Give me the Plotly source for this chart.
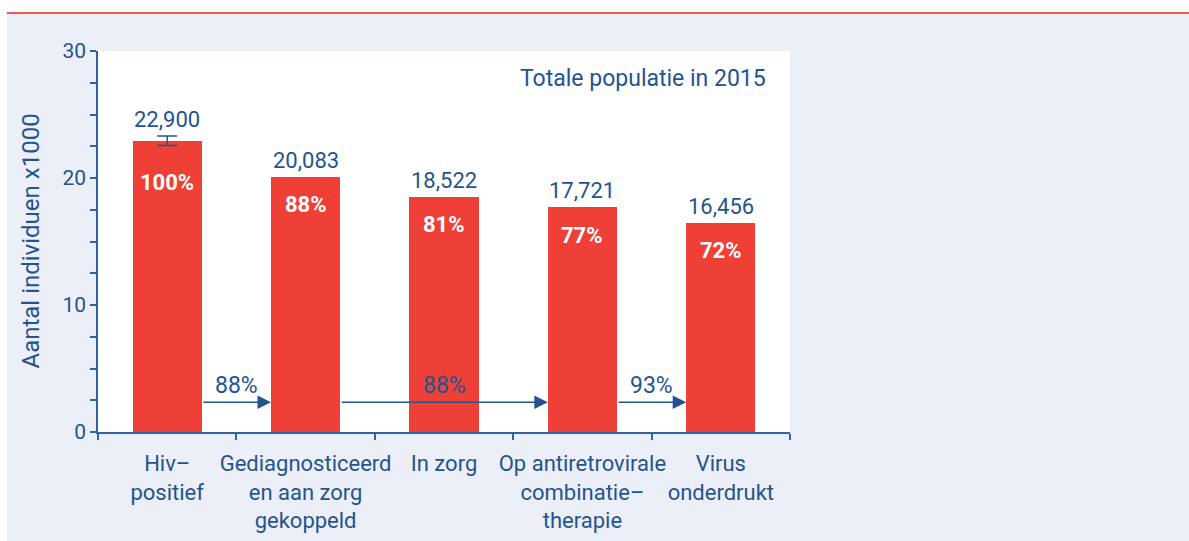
import plotly.graph_objects as go

# data (x1000 individuals)
categories = ['Hiv–<br>positief', 'Gediagnosticeerd<br>en aan zorg<br>gekoppeld', 'In zorg',
              'Op antiretrovirale<br>combinatie–<br>therapie', 'Virus<br>onderdrukt']
totals = [22.900, 20.083, 18.522, 17.721, 16.456]
total_labels = ['22,900', '20,083', '18,522', '17,721', '16,456']
pct_of_total = ['100%', '88%', '81%', '77%', '72%']
err_plus = [0.4]
err_minus = [0.35]
step_from = [0, 1, 3]
step_to = [1, 3, 4]
step_pct = ['88%', '88%', '93%']
y_ticks = [0, 10, 20, 30]

BLUE = '#24548f'
AXIS = '#2f64a3'
RED = '#ee4036'
BG = '#eceff7'
FONT = 'Roboto'

W, H = 1189, 541
L, R, T, B = 98, 790, 51, 432   # plot area in pixels


def px_x(p):
    return (p - L) / (R - L)


def px_y(p):
    return (B - p) / (B - T)


fig = go.Figure()

fig.add_trace(go.Bar(
    x=categories, y=totals, width=0.5,
    marker=dict(color=RED, line=dict(width=0)),
    hoverinfo='skip', showlegend=False
))

# error bar only on the first bar
fig.add_trace(go.Scatter(
    x=categories[:1], y=totals[:1], mode='markers',
    marker=dict(size=1, opacity=0),
    error_y=dict(type='data', array=err_plus, arrayminus=err_minus,
                 color=BLUE, thickness=1.5, width=10),
    hoverinfo='skip', showlegend=False
))

annotations = []
pct_shift = [-27, -13, -13, -14, -13]
for i, (v, lab, pct) in enumerate(zip(totals, total_labels, pct_of_total)):
    top = v + (err_plus[0] if i == 0 else 0)
    annotations.append(dict(x=i, y=top, xref='x', yref='y', text=lab, showarrow=False,
                            yanchor='bottom', yshift=2,
                            font=dict(family=FONT, size=22, color=BLUE)))
    annotations.append(dict(x=i, y=v, xref='x', yref='y', text='<b>%s</b>' % pct,
                            showarrow=False, yanchor='top', yshift=pct_shift[i],
                            font=dict(family=FONT, size=22, color='white')))

# arrows between the steps
for a, b, pct in zip(step_from, step_to, step_pct):
    annotations.append(dict(x=b - 0.25, y=2.35, ax=a + 0.25, ay=2.35,
                            xref='x', yref='y', axref='x', ayref='y', text='',
                            showarrow=True, arrowhead=2, arrowsize=1.8, arrowwidth=1.5,
                            arrowcolor=BLUE))
    annotations.append(dict(x=(a + b) / 2, y=3.7, xref='x', yref='y', text=pct,
                            showarrow=False, font=dict(family=FONT, size=23, color=BLUE)))

annotations.append(dict(x=px_x(768), y=px_y(78), xref='paper', yref='paper',
                        text='Totale populatie in 2015', showarrow=False,
                        xanchor='right', yanchor='middle',
                        font=dict(family=FONT, size=23, color=BLUE)))
annotations.append(dict(x=px_x(30), y=0.5, xref='paper', yref='paper',
                        text='Aantal individuen x1000', showarrow=False, textangle=-90,
                        xanchor='center', yanchor='middle',
                        font=dict(family=FONT, size=24, color=BLUE)))

shapes = [
    # white strip at the top and left edge, red rule under it
    dict(type='rect', xref='paper', yref='paper', x0=px_x(-5), x1=px_x(W + 5),
         y0=px_y(12), y1=px_y(-5), fillcolor='white', line=dict(width=0), layer='below'),
    dict(type='rect', xref='paper', yref='paper', x0=px_x(-5), x1=px_x(7),
         y0=px_y(W), y1=px_y(-5), fillcolor='white', line=dict(width=0), layer='below'),
    dict(type='line', xref='paper', yref='paper', x0=px_x(7), x1=px_x(W + 5),
         y0=px_y(13), y1=px_y(13), line=dict(color='#f0554c', width=2)),
]

fig.update_layout(
    width=W, height=H,
    margin=dict(l=L, r=W - R, t=T, b=H - B, pad=0, autoexpand=False),
    paper_bgcolor=BG,
    plot_bgcolor='white',
    font=dict(family=FONT, color=BLUE),
    bargap=0,
    annotations=annotations,
    shapes=shapes,
    xaxis=dict(
        range=[-0.5, 4.5], tickson='boundaries', ticks='outside', ticklen=6,
        tickwidth=1.5, tickcolor=AXIS, showline=True, linecolor=AXIS, linewidth=1.5,
        showgrid=False, zeroline=False, tickfont=dict(family=FONT, size=22, color=BLUE),
        tickangle=0, automargin=False, ticklabelstandoff=11, fixedrange=True
    ),
    yaxis=dict(
        range=[0, 30], tickvals=y_ticks, ticks='outside', ticklen=6, tickwidth=1.5,
        tickcolor=AXIS, showline=True, linecolor=AXIS, linewidth=1.5,
        showgrid=False, zeroline=False, tickfont=dict(family=FONT, size=21, color=BLUE),
        minor=dict(dtick=2.5, ticks='outside', ticklen=6, tickwidth=1.5, tickcolor=AXIS,
                   showgrid=False),
        automargin=False, fixedrange=True
    ),
)

fig.write_html('out.html', config={'displayModeBar': False},
               post_script="document.body.style.margin='0';")
